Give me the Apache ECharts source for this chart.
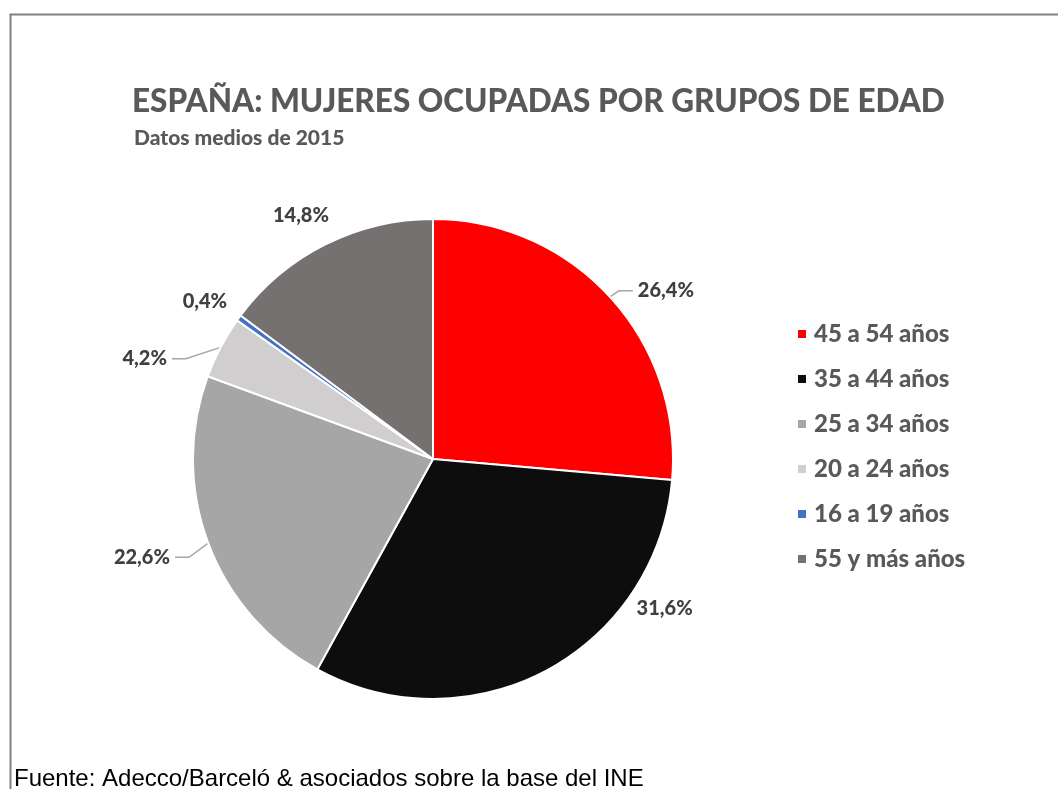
<!DOCTYPE html>
<html>
<head>
<meta charset="utf-8">
<script src="https://cdn.jsdelivr.net/npm/echarts@6/dist/echarts.min.js"></script>
<style>
  html, body { margin: 0; padding: 0; background: #fff; }
  #chart { width: 1058px; height: 789px; }
</style>
</head>
<body>
<div id="chart"></div>
<script>
// grupos de edad, en el orden de la tarta (empieza arriba, sentido horario)
const grupos = ['45 a 54 años', '35 a 44 años', '25 a 34 años', '20 a 24 años', '16 a 19 años', '55 y más años']
const porcentajes = [26.4, 31.6, 22.6, 4.2, 0.4, 14.8]
const colores = ['#ff0000', '#0d0d0d', '#a6a6a6', '#d0cece', '#4472c4', '#767171']
// desplazamiento de cada etiqueta y si lleva línea guía (como en el original)
const ajusteEtiqueta = [[0, 2], [66, -73], [-8, 10], [-24, 17], [17, -9], [28, -18]]
const conLinea = [true, false, true, true, false, false]

const chart = echarts.init(document.getElementById('chart'))

// mueve la etiqueta y arrastra con ella el tramo final de la línea guía
function moverEtiqueta(p) {
  const [dx, dy] = ajusteEtiqueta[p.dataIndex]
  const res = { dx: dx, dy: dy }
  const pts = p.labelLinePoints
  if (pts && conLinea[p.dataIndex]) {
    res.labelLinePoints = [
      pts[0],
      [pts[1][0] + dx, pts[1][1] + dy],
      [pts[2][0] + dx, pts[2][1] + dy]
    ]
  }
  return res
}

const option = {
  animation: false,
  color: colores,
  title: [
    {
      text: 'ESPAÑA: MUJERES OCUPADAS POR GRUPOS DE EDAD',
      left: 127,
      top: 81,
      textStyle: { fontFamily: 'Lato', fontWeight: 900, fontSize: 31.5, color: '#595959' }
    },
    {
      text: 'Datos medios de 2015',
      left: 129,
      top: 123,
      textStyle: { fontFamily: 'Lato', fontWeight: 900, fontSize: 21, color: '#595959' }
    },
    {
      text: 'Fuente: Adecco/Barceló & asociados sobre la base del INE',
      left: 9,
      top: 762,
      textStyle: { fontFamily: 'Liberation Sans', fontWeight: 'normal', fontSize: 24, color: '#000' }
    }
  ],
  // marco gris del gráfico
  graphic: [{
    type: 'rect',
    left: 8,
    top: 12,
    shape: { width: 1080, height: 820 },
    style: { fill: 'none', stroke: '#808080', lineWidth: 2 },
    silent: true
  }],
  legend: {
    orient: 'vertical',
    left: 791,
    top: 317,
    itemWidth: 10,
    itemHeight: 10,
    itemGap: 21,
    icon: 'rect',
    data: grupos,
    textStyle: { fontFamily: 'Lato', fontWeight: 900, fontSize: 24, lineHeight: 22, color: '#595959', padding: [0, 0, 0, 2] }
  },
  series: [{
    type: 'pie',
    center: [433, 459],
    radius: 240,
    startAngle: 90,
    clockwise: true,
    avoidLabelOverlap: false,
    itemStyle: { borderColor: '#fff', borderWidth: 2 },
    label: {
      show: true,
      position: 'outside',
      formatter: (p) => p.value.toFixed(1).replace('.', ',') + '%',
      fontFamily: 'Lato',
      fontWeight: 900,
      fontSize: 20,
      color: '#404040'
    },
    labelLine: {
      show: true,
      length: 12,
      length2: 14,
      lineStyle: { color: '#a6a6a6', width: 1.5 }
    },
    labelLayout: moverEtiqueta,
    data: grupos.map((g, i) => ({ name: g, value: porcentajes[i], labelLine: { show: conLinea[i] } }))
  }]
}

chart.setOption(option)
</script>
</body>
</html>
